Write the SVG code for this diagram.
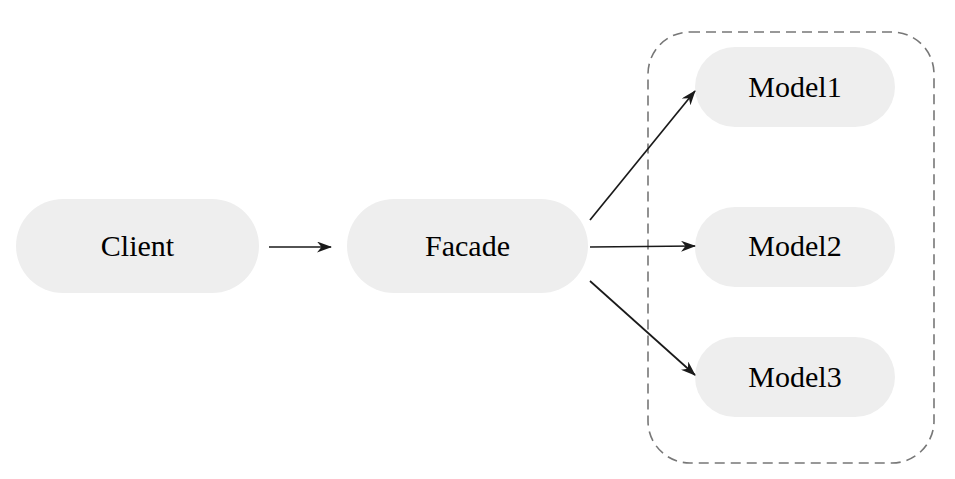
<svg xmlns="http://www.w3.org/2000/svg" width="955" height="479" viewBox="0 0 955 479">
<style>
.node rect{fill:#eeeeee;}
.node text{font-family:"Liberation Serif","Times New Roman",serif;font-size:30px;fill:#000;text-anchor:middle;}
.edge{stroke:#1a1a1a;stroke-width:1.7;fill:none;marker-end:url(#ah);}
</style>
<defs>
<marker id="ah" viewBox="0 0 15 11" refX="14" refY="5.5" markerWidth="15" markerHeight="11" markerUnits="userSpaceOnUse" orient="auto">
<path d="M0,0 L15,5.5 L0,11 L4.5,5.5 Z" fill="#1a1a1a"/>
</marker>
</defs>
<rect id="group" x="648" y="32" width="286" height="431" rx="42" fill="none" stroke="#777" stroke-width="1.6" stroke-dasharray="10,6"/>
<g id="client" class="node"><rect x="16" y="199" width="243" height="94" rx="47"/><text x="137.5" y="256">Client</text></g>
<g id="facade" class="node"><rect x="347" y="199" width="241" height="94" rx="47"/><text x="467.5" y="256">Facade</text></g>
<g id="model1" class="node"><rect x="695" y="47" width="200" height="80" rx="40"/><text x="795" y="97">Model1</text></g>
<g id="model2" class="node"><rect x="695" y="207" width="200" height="80" rx="40"/><text x="795" y="256">Model2</text></g>
<g id="model3" class="node"><rect x="695" y="337" width="200" height="80" rx="40"/><text x="795" y="387">Model3</text></g>
<g id="connectors">
<line class="edge" x1="269" y1="247" x2="331" y2="247"/>
<line class="edge" x1="590" y1="220" x2="695" y2="91"/>
<line class="edge" x1="590" y1="247" x2="695" y2="246"/>
<line class="edge" x1="590" y1="281" x2="695" y2="375"/>
</g>
</svg>
